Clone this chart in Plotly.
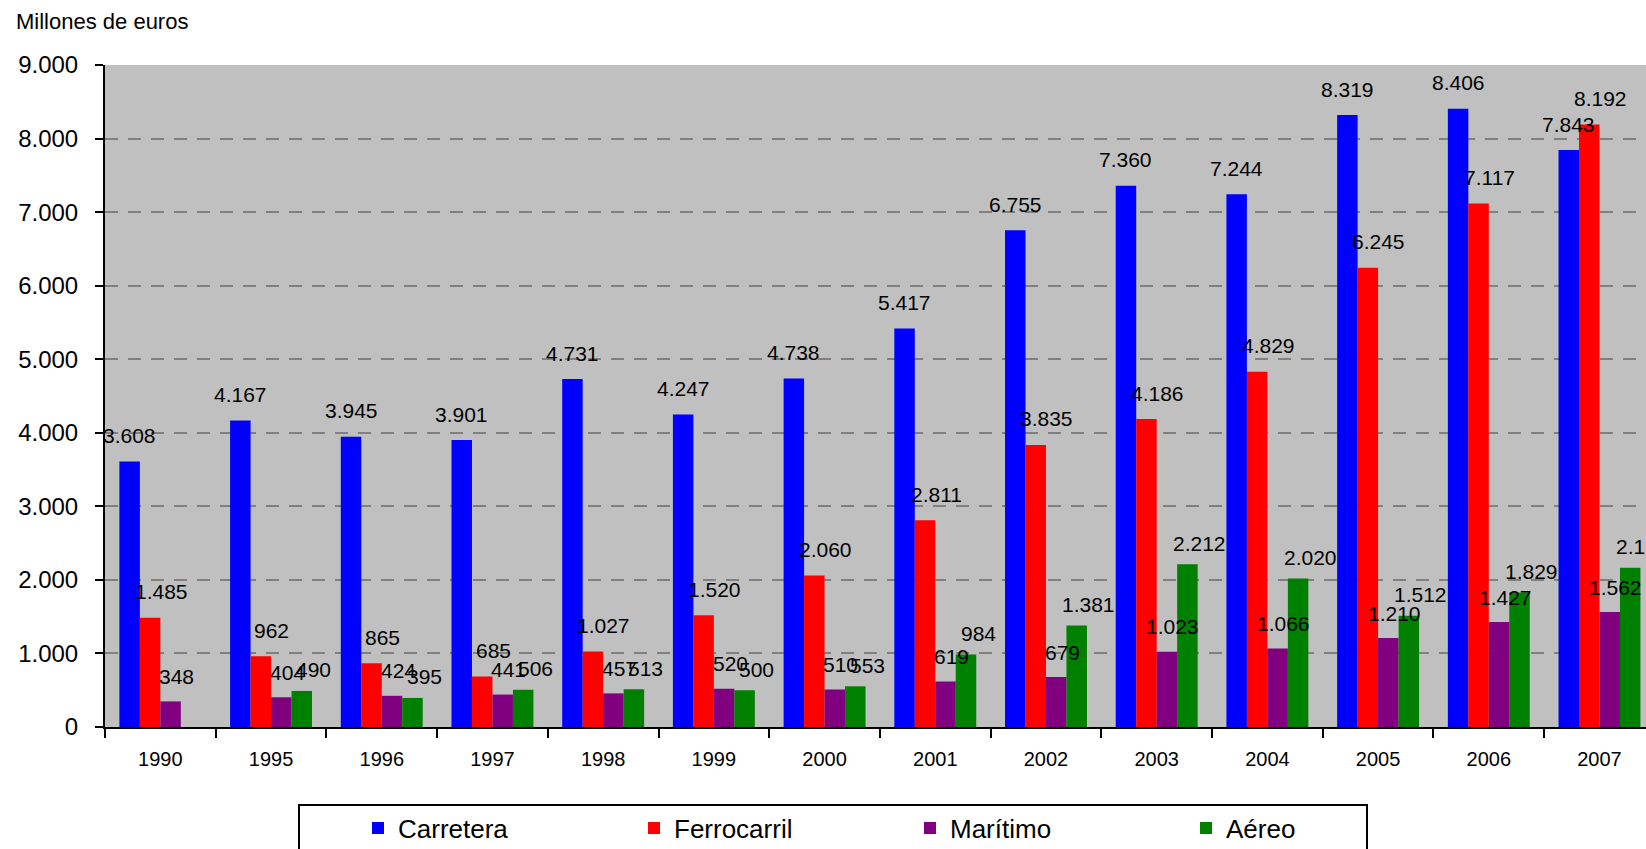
import plotly.graph_objects as go

# Gasto en infraestructuras de transporte por modo (millones de euros)
years = ["1990", "1995", "1996", "1997", "1998", "1999", "2000",
         "2001", "2002", "2003", "2004", "2005", "2006", "2007"]
carretera = [3608, 4167, 3945, 3901, 4731, 4247, 4738, 5417, 6755, 7360, 7244, 8319, 8406, 7843]
ferrocarril = [1485, 962, 865, 685, 1027, 1520, 2060, 2811, 3835, 4186, 4829, 6245, 7117, 8192]
maritimo = [348, 404, 424, 441, 457, 520, 510, 619, 679, 1023, 1066, 1210, 1427, 1562]
aereo = [None, 490, 395, 506, 513, 500, 553, 984, 1381, 2212, 2020, 1512, 1829, 2164]

series_names = ["Carretera", "Ferrocarril", "Marítimo", "Aéreo"]
series_values = [carretera, ferrocarril, maritimo, aereo]
series_colors = ["#0000FF", "#FF0000", "#800080", "#008000"]

y_ticks = list(range(0, 9001, 1000))

FONT = "Liberation Sans, Arial, sans-serif"
W, H = 1646, 849
M_L, M_R, M_T, M_B = 105, 0, 65, 122
BARGAP = 0.26
X_RANGE = [-0.5, 13.42]

# per-series nudge of the value labels (pixels right / pixels above bar top)
LABEL_DX = [0, 11, 6, 12]
LABEL_DY = [26, 26, 25, 21]

plot_w = W - M_L - M_R
plot_h = H - M_T - M_B
cat_px = plot_w / (X_RANGE[1] - X_RANGE[0])
bar_px = cat_px * (1 - BARGAP) / len(series_names)


def fmt(v):
    return f"{v:,}".replace(",", ".")


def px_x(px):
    return (px - M_L) / plot_w


def px_y(py):
    return (H - M_B - py) / plot_h


fig = go.Figure()
for name, vals, col in zip(series_names, series_values, series_colors):
    fig.add_trace(go.Bar(
        name=name, x=years, y=vals,
        marker=dict(color=col, line=dict(width=0)),
    ))

# value labels above each bar (category index on the x axis)
annotations = []
n = len(series_names)
for i, vals in enumerate(series_values):
    for j, v in enumerate(vals):
        if v is None:
            continue
        annotations.append(dict(
            x=j, y=v, xref="x", yref="y", text=fmt(v), showarrow=False,
            xanchor="center", yanchor="middle",
            xshift=(i - (n - 1) / 2) * bar_px + LABEL_DX[i], yshift=LABEL_DY[i],
            font=dict(family=FONT, size=21, color="#000000"),
        ))

annotations.append(dict(
    x=px_x(14), y=px_y(22), xref="paper", yref="paper", text="Millones de euros",
    showarrow=False, xanchor="left", yanchor="middle",
    font=dict(family=FONT, size=22, color="#000000"),
))

fig.update_layout(
    width=W, height=H,
    margin=dict(l=M_L, r=M_R, t=M_T, b=M_B, autoexpand=False),
    paper_bgcolor="#FFFFFF", plot_bgcolor="#C0C0C0",
    barmode="group", bargap=BARGAP, bargroupgap=0,
    separators=",.",
    font=dict(family=FONT, color="#000000"),
    showlegend=True,
    legend=dict(
        orientation="h", xref="paper", yref="paper",
        x=px_x(358), xanchor="left",
        y=px_y(828), yanchor="middle",
        entrywidth=231, entrywidthmode="pixels",
        font=dict(family=FONT, size=26, color="#000000"),
        bgcolor="rgba(0,0,0,0)", borderwidth=0,
        traceorder="normal",
    ),
    shapes=[dict(
        type="rect", xref="paper", yref="paper",
        x0=px_x(299), x1=px_x(1367),
        y0=px_y(870), y1=px_y(805),
        line=dict(color="#000000", width=2), fillcolor="rgba(0,0,0,0)",
    )],
    annotations=annotations,
    xaxis=dict(
        type="category", range=X_RANGE,
        showline=True, linecolor="#000000", linewidth=2,
        ticks="outside", tickson="boundaries", ticklen=9, tickwidth=2, tickcolor="#000000",
        tickfont=dict(family=FONT, size=20, color="#000000"),
        ticklabelstandoff=13,
        showgrid=False, zeroline=False,
    ),
    yaxis=dict(
        range=[0, 9000], tickvals=y_ticks, tickformat=",d",
        showline=True, linecolor="#000000", linewidth=2,
        ticks="outside", ticklen=8, tickwidth=2, tickcolor="#000000",
        tickfont=dict(family=FONT, size=24, color="#000000"),
        ticklabelstandoff=12,
        showgrid=True, gridcolor="#808080", gridwidth=2, griddash="13px,10px",
        zeroline=False,
    ),
)

fig.write_html("out.html")
